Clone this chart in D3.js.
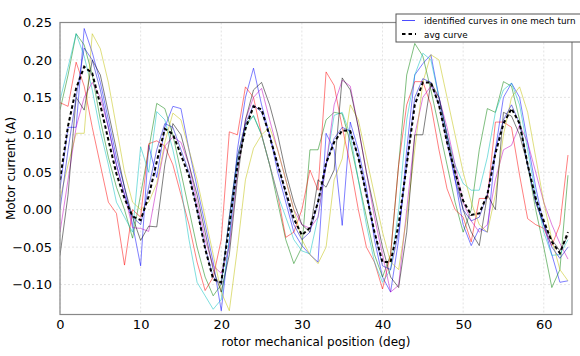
<!DOCTYPE html>
<html><head><meta charset="utf-8">
<script src="https://cdn.jsdelivr.net/npm/d3@7"></script>
<style>body{margin:0;background:#fff}svg{display:block;font-family:"DejaVu Sans",sans-serif}</style>
</head><body><svg id="c" width="580" height="356"></svg>
<script>
const positions = d3.range(0, 64);
const xTicks = [0, 10, 20, 30, 40, 50, 60];
const yTicks = [-0.10, -0.05, 0.00, 0.05, 0.10, 0.15, 0.20, 0.25];
const seriesNames = ["blue", "green", "red", "cyan", "magenta", "yellow", "gray", "blue2"];
const seriesColors = ["#0000ff", "#008000", "#ff0000", "#00bfbf", "#bf00bf", "#bfbf00", "#000000", "#0000cc"];
const blue = [.028,.110,.110,.242,.210,.170,.120,.070,.030,-.020,-.075,.086,.043,.110,.138,.135,.080,.030,-.020,-.070,-.135,-.040,.080,.150,.189,.140,.100,.050,.010,-.030,-.048,-.060,-.070,.102,.080,-.021,.117,.080,.030,-.040,-.090,-.110,-.040,.080,.180,.195,.207,.150,.100,.040,-.020,-.048,-.025,-.030,.080,.150,.169,.150,.090,.030,-.020,-.060,-.097,-.095];
const green = [.133,.180,.235,.220,.180,.120,.070,.030,.000,-.038,.020,.080,.142,.135,.100,.050,.000,-.050,-.090,-.115,-.100,-.010,.070,.115,.125,.100,.060,.010,-.040,-.072,-.050,.080,.080,.120,.130,.128,.090,.040,-.010,-.060,-.090,-.060,.060,.180,.222,.205,.160,.110,.060,.010,-.030,.000,.080,.135,.130,.171,.165,.120,.060,.000,-.050,-.104,-.080,.046];
const red = [.143,.138,.197,.165,.110,.060,.010,-.005,-.074,.000,-.010,.088,.092,.085,.060,.020,-.020,-.070,-.108,-.090,-.040,.104,.100,.164,.150,.100,.060,.020,-.037,-.030,.000,.053,.026,.184,.166,.110,.060,.000,-.050,-.070,-.106,-.060,.060,.140,.171,.171,.140,.080,.028,.000,-.010,-.043,.015,.015,.117,.117,.110,.046,-.012,-.020,-.025,-.048,-.020,.073];
const cyan = [.146,.190,.235,.205,.160,.105,.060,.010,-.010,-.030,.084,.050,.131,.120,.080,.030,-.040,-.097,-.115,-.133,-.120,-.040,.060,.110,.126,.100,.060,.020,-.010,-.040,-.055,-.059,-.010,.060,.126,.130,.100,.040,-.020,-.070,-.097,-.080,.000,.120,.180,.209,.200,.150,.100,.060,.035,.026,.026,.070,.130,.160,.169,.140,.080,.020,-.030,-.061,-.060,-.040];
const magenta = [-.030,.040,.110,.150,.170,.150,.110,.060,.020,-.024,-.025,-.029,.030,.085,.097,.090,.060,.010,-.040,-.075,-.085,-.050,.050,.120,.150,.162,.120,.080,.040,.000,-.020,-.025,-.010,.060,.140,.173,.165,.110,.050,-.010,-.060,-.110,-.101,.000,.100,.150,.165,.150,.110,.060,.010,-.015,-.030,-.020,.040,.080,.086,.113,.090,.050,.010,-.020,-.045,-.066];
const yellow = [.015,.060,.102,.102,.235,.215,.170,.110,.050,.010,.000,.010,.035,.090,.129,.120,.080,.040,-.010,-.060,-.110,-.135,-.052,.040,.082,.100,.110,.080,.040,.000,-.040,-.060,-.072,-.050,.040,.068,.140,.120,.070,.020,-.030,-.070,-.080,-.010,.080,.170,.207,.200,.150,.100,.050,.010,-.020,-.030,.020,.100,.150,.164,.130,.070,.010,-.040,-.080,-.095];
const gray = [-.061,.020,.150,.133,.200,.180,.130,.080,.030,-.010,-.041,-.022,-.023,.060,.115,.100,.060,.020,-.030,-.080,-.110,-.060,.040,.120,.160,.170,.140,.100,.050,.010,-.020,-.030,.040,.030,.053,.176,.160,.110,.050,.000,-.050,-.090,-.104,-.030,.100,.100,.170,.150,.100,.050,.000,-.030,-.048,.020,.000,.130,.125,.100,.060,.010,-.020,-.040,-.055,-.035];
const blue2 = [.000,.080,.150,.216,.200,.160,.110,.060,.020,-.010,-.020,.030,.080,.115,.110,.080,.050,.000,-.050,-.090,-.100,-.010,.070,.115,.140,.130,.100,.060,.020,-.020,-.040,-.030,.010,.060,.095,.110,.105,.070,.020,-.030,-.075,-.080,-.030,.060,.150,.175,.170,.140,.090,.040,.000,-.015,-.010,.020,.080,.120,.140,.115,.060,.010,-.020,-.050,-.065,-.050];
const avgCurve = [.040,.112,.162,.191,.182,.140,.093,.048,.015,-.009,-.014,.018,.064,.108,.101,.073,.045,.000,-.052,-.093,-.097,-.020,.058,.108,.138,.134,.098,.060,.024,-.012,-.034,-.024,.010,.062,.090,.106,.105,.070,.020,-.030,-.070,-.070,-.020,.060,.140,.170,.170,.140,.090,.050,.012,-.007,-.005,.020,.075,.115,.135,.115,.060,.015,-.015,-.043,-.058,-.030];
const seriesValues = [blue, green, red, cyan, magenta, yellow, gray, blue2];
const legendLabels = ["identified curves in one mech turn", "avg curve"];
const xLabel = "rotor mechanical position (deg)";
const yLabel = "Motor current (A)";

const svg = d3.select("#c");
const L = 60, R = 572, T = 22.5, B = 314.5;
const x = d3.scaleLinear().domain([0, 63.5]).range([L, R]);
const y = d3.scaleLinear().domain([-0.14, 0.25]).range([B, T]);

// grid
const g = svg.append("g");
g.selectAll(".vg").data(xTicks).join("line")
  .attr("x1", d => x(d)).attr("x2", d => x(d)).attr("y1", T).attr("y2", B)
  .attr("stroke", "#dcdcdc").attr("stroke-dasharray", "2,2").attr("stroke-width", 0.8);
g.selectAll(".hg").data(yTicks).join("line")
  .attr("y1", d => y(d)).attr("y2", d => y(d)).attr("x1", L).attr("x2", R)
  .attr("stroke", "#dcdcdc").attr("stroke-dasharray", "2,2").attr("stroke-width", 0.8);

svg.append("clipPath").attr("id", "pc").append("rect")
  .attr("x", L).attr("y", T).attr("width", R - L).attr("height", B - T);

const line = d3.line().x((d, i) => x(positions[i])).y(d => y(d));
const plot = svg.append("g").attr("clip-path", "url(#pc)");
seriesValues.forEach((s, k) => {
  plot.append("path").attr("d", line(s)).attr("fill", "none")
    .attr("stroke", seriesColors[k]).attr("stroke-opacity", 0.5).attr("stroke-width", 1);
});
plot.append("path").attr("d", line(avgCurve)).attr("fill", "none")
  .attr("stroke", "#000").attr("stroke-width", 2).attr("stroke-dasharray", "3.5,2.5");

// frame
svg.append("rect").attr("x", L).attr("y", T).attr("width", R - L).attr("height", B - T)
  .attr("fill", "none").attr("stroke", "#888").attr("stroke-width", 1.2);

// axes (labels only)
const xa = svg.append("g").attr("transform", `translate(0,${B})`)
  .call(d3.axisBottom(x).tickValues(xTicks).tickSize(0).tickPadding(5).tickFormat(d3.format("d")));
const ya = svg.append("g").attr("transform", `translate(${L},0)`)
  .call(d3.axisLeft(y).tickValues(yTicks).tickSize(0).tickPadding(8).tickFormat(d3.format(".2f")));
[xa, ya].forEach(a => {
  a.select(".domain").remove();
  a.selectAll("text").attr("font-size", 13).attr("font-family", "DejaVu Sans").attr("fill", "#000");
});

svg.append("text").attr("x", (L + R) / 2).attr("y", 346).attr("text-anchor", "middle")
  .attr("font-size", 12).attr("fill", "#000").text(xLabel);
svg.append("text").attr("transform", `translate(15,${(T + B) / 2}) rotate(-90)`)
  .attr("text-anchor", "middle").attr("font-size", 12).attr("fill", "#000").text(yLabel);

// legend
const lg = svg.append("g");
lg.append("rect").attr("x", 396).attr("y", 14).attr("width", 200).attr("height", 28)
  .attr("fill", "#fff").attr("stroke", "#555").attr("stroke-width", 1);
lg.append("line").attr("x1", 402).attr("x2", 415).attr("y1", 20.5).attr("y2", 20.5)
  .attr("stroke", "#0000ff").attr("stroke-opacity", 0.7).attr("stroke-width", 1);
lg.append("line").attr("x1", 402).attr("x2", 416).attr("y1", 34).attr("y2", 34)
  .attr("stroke", "#000").attr("stroke-width", 2).attr("stroke-dasharray", "3.5,3");
lg.selectAll("text.lt").data(legendLabels).join("text")
  .attr("x", 424).attr("y", (d, i) => 24 + i * 13.5)
  .attr("font-size", 8.8).attr("fill", "#000").text(d => d);
</script></body></html>
